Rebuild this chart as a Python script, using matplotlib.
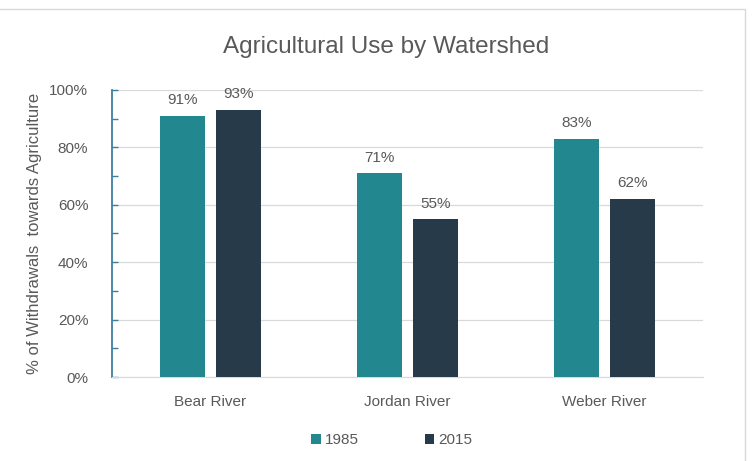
import numpy as np
import matplotlib
matplotlib.use("Agg")
import matplotlib.pyplot as plt
from matplotlib.patches import Rectangle
from matplotlib.ticker import PercentFormatter, MultipleLocator

# data
watersheds = ["Bear River", "Jordan River", "Weber River"]
years = ["1985", "2015"]
share_1985 = [91, 71, 83]
share_2015 = [93, 55, 62]

colors = ["#22878F", "#263A4A"]
grey = "#595959"

plt.rcParams['font.family'] = ['Liberation Sans', 'DejaVu Sans']

fig = plt.figure(figsize=(7.54, 4.61), dpi=100)
ax = fig.add_axes([0.1485, 0.182, 0.784, 0.623])

# light frame around the chart area
fig.patches.append(Rectangle((-0.01, -0.01), 0.998, 0.99, transform=fig.transFigure,
                             fill=False, edgecolor="#D9D9D9", lw=1.0))

x = np.arange(len(watersheds))
w = 0.232
off = 0.142
for vals, c, lab, sgn in [(share_1985, colors[0], years[0], -1), (share_2015, colors[1], years[1], 1)]:
    bars = ax.bar(x + sgn*off, vals, width=w, color=c, label=lab, zorder=3)
    for b, v in zip(bars, vals):
        ax.text(b.get_x() + b.get_width()/2, v + 3, f"{v}%", ha="center", va="bottom",
                fontsize=11, color=grey)

ax.set_xlim(-0.5, 2.5)
ax.set_ylim(0, 100)
ax.yaxis.set_major_locator(MultipleLocator(20))
ax.yaxis.set_minor_locator(MultipleLocator(10))
ax.yaxis.set_major_formatter(PercentFormatter(decimals=0))
ax.set_xticks(x)
ax.set_xticklabels(watersheds)
ax.grid(axis="y", color="#D9D9D9", lw=0.9, zorder=0)

for s in ["top", "right"]:
    ax.spines[s].set_visible(False)
ax.spines["left"].set_color("#3A7FA0")
ax.spines["left"].set_linewidth(1.3)
ax.spines["bottom"].set_color("#D9D9D9")
ax.tick_params(axis="y", which="both", direction="in", color="#3A7FA0", length=4, width=1,
               labelsize=11, labelcolor=grey, pad=17)
ax.tick_params(axis="x", length=0, labelsize=11, labelcolor=grey, pad=13)

ax.set_ylabel("% of Withdrawals  towards Agriculture", fontsize=12, color=grey, labelpad=5)
fig.text(0.512, 0.898, "Agricultural Use by Watershed", ha="center", va="center",
         fontsize=17.5, color=grey)

fig.legend(loc="lower center", bbox_to_anchor=(0.52, 0.0), ncol=2, frameon=False,
           fontsize=11, labelcolor=grey, handlelength=0.6, handleheight=0.6,
           handletextpad=0.3, columnspacing=4.3)

fig.savefig("out.png", dpi=100)
